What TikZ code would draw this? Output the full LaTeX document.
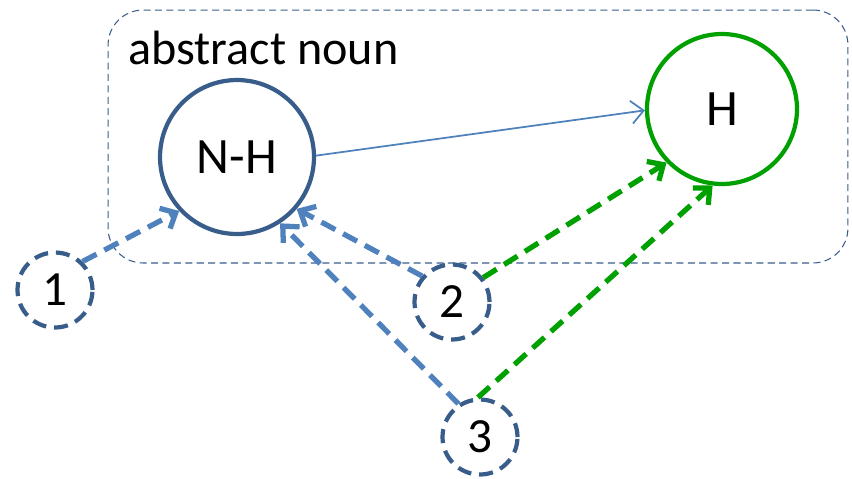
\documentclass[tikz,border=0pt]{standalone}
\usepackage{fontspec}
\setmainfont{Carlito}
\usetikzlibrary{arrows.meta}
\definecolor{nodeblue}{HTML}{385D8A}
\definecolor{linkblue}{HTML}{4F81BD}
\definecolor{headgreen}{HTML}{00A000}
\tikzset{
  bignode/.style={circle,line width=2.4pt,font=\fontsize{29}{32}\selectfont},
  smallnode/.style={circle,draw=nodeblue,line width=2.4pt,dash pattern=on 8pt off 4.5pt,
    minimum size=1.5cm,inner sep=0pt,font=\fontsize{28}{30}\selectfont},
  groupbox/.style={draw=nodeblue,line width=0.6pt,dash pattern=on 4pt off 2.5pt,rounded corners=0.7cm},
  thinlink/.style={draw=linkblue,line width=1pt,-{Straight Barb[length=7pt,width=13pt]}},
  dashlink/.style={line width=3pt,dash pattern=on 9pt off 5pt,-{Straight Barb[length=7pt,width=13pt]}}
}
\begin{document}
\begin{tikzpicture}[x=0.02cm,y=-0.02cm]
  \useasboundingbox (0,0) rectangle (852,478);
  \node (nounbox) [groupbox,minimum width=14.8cm,minimum height=5.06cm] at (478,136.5) {};
  \node (nounlabel) [anchor=base west,inner sep=0pt,font=\fontsize{27.4}{30}\selectfont] at (128,64) {abstract noun};
  \node (nh) [bignode,draw=nodeblue,minimum size=3.08cm] at (237,157) {N-H};
  \node (h) [bignode,draw=headgreen,minimum size=3.0cm] at (722,109) {H};
  \node (one) [smallnode] at (55,290) {1};
  \node (two) [smallnode] at (452,302) {2};
  \node (three) [smallnode] at (480,437) {3};
  \draw[thinlink] (nh.1) -- (h.181);
  \draw[dashlink,linkblue] (one.46) -- (nh.223);
  \draw[dashlink,linkblue] (two.139) -- (nh.319);
  \draw[dashlink,linkblue] (three.123) -- (nh.303);
  \draw[dashlink,headgreen] (two.38) -- (h.224);
  \draw[dashlink,headgreen] (three.93) -- (h.263);
\end{tikzpicture}
\end{document}
